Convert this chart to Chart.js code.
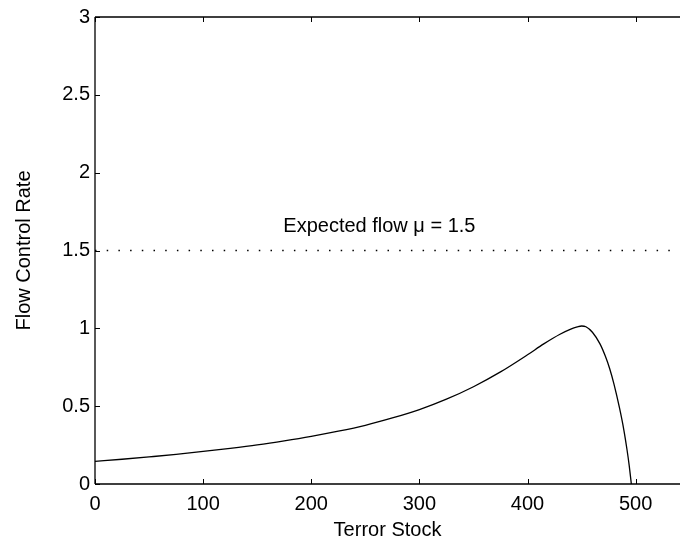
<!DOCTYPE html>
<html>
<head>
<meta charset="utf-8">
<script src="https://cdn.jsdelivr.net/npm/chart.js@4/dist/chart.umd.min.js"></script>
<style>
  html, body { margin: 0; padding: 0; background: #fff; }
  #wrap { width: 680px; height: 542px; }
</style>
</head>
<body>
<div id="wrap"><canvas id="c" width="680" height="542"></canvas></div>
<script>
// ---- data ----
const terrorStock = [0, 25, 50, 75, 100, 125, 150, 175, 200, 225, 250, 275, 300, 325, 350, 375, 400, 415, 430, 440, 446, 450, 454, 460, 467, 472, 476, 480, 485, 489, 492, 494, 496];
const flowControlRate = [0.145, 0.159, 0.174, 0.19, 0.209, 0.229, 0.251, 0.277, 0.306, 0.339, 0.377, 0.424, 0.478, 0.545, 0.625, 0.72, 0.83, 0.9, 0.962, 0.995, 1.009, 1.015, 1.01, 0.975, 0.9, 0.82, 0.74, 0.64, 0.49, 0.35, 0.22, 0.12, 0.0];
const expectedFlow = 1.5;
const expectedLabel = 'Expected flow \u03bc = 1.5';
const xTickValues = [0, 100, 200, 300, 400, 500];
const yTickValues = [0, 0.5, 1, 1.5, 2, 2.5, 3];
const xRange = [0, 541];
const yRange = [0, 3];
const labelAt = { x: 263, y: 1.655 };

const FONT = 'Liberation Sans, Arial, Helvetica, sans-serif';
const FSIZE = 20;

const curve = terrorStock.map((x, i) => ({ x: x, y: flowControlRate[i] }));
const expectedLine = [{ x: xRange[0], y: expectedFlow }, { x: xRange[1], y: expectedFlow }];

const framePlugin = {
  id: 'frame',
  afterDraw(chart) {
    const { ctx, chartArea: a, scales } = chart;
    const xs = scales.x, ys = scales.y;
    ctx.save();
    ctx.strokeStyle = '#000';
    ctx.lineWidth = 1.3;
    ctx.beginPath();
    ctx.moveTo(a.left, a.top); ctx.lineTo(a.right, a.top);
    ctx.moveTo(a.left, a.top); ctx.lineTo(a.left, a.bottom);
    ctx.moveTo(a.left, a.bottom); ctx.lineTo(a.right, a.bottom);
    ctx.stroke();
    ctx.lineWidth = 1;
    const tl = 5;
    ctx.beginPath();
    xTickValues.forEach(v => {
      const px = Math.round(xs.getPixelForValue(v)) + 0.5;
      ctx.moveTo(px, a.bottom); ctx.lineTo(px, a.bottom - tl);
      ctx.moveTo(px, a.top); ctx.lineTo(px, a.top + tl);
    });
    yTickValues.forEach(v => {
      const py = Math.round(ys.getPixelForValue(v)) + 0.5;
      ctx.moveTo(a.left, py); ctx.lineTo(a.left + tl, py);
    });
    ctx.stroke();
    // annotation
    ctx.fillStyle = '#000';
    ctx.font = FSIZE + 'px ' + FONT;
    ctx.textAlign = 'center';
    ctx.textBaseline = 'middle';
    ctx.fillText(expectedLabel, xs.getPixelForValue(labelAt.x), ys.getPixelForValue(labelAt.y));
    ctx.restore();
  }
};

new Chart(document.getElementById('c'), {
  type: 'line',
  data: {
    datasets: [
      {
        data: curve,
        borderColor: '#000',
        borderWidth: 1.3,
        pointRadius: 0,
        fill: false,
        cubicInterpolationMode: 'monotone'
      },
      {
        data: expectedLine,
        borderColor: '#000',
        borderWidth: 1.5,
        borderDash: [1.5, 10.2],
        pointRadius: 0,
        fill: false
      }
    ]
  },
  options: {
    responsive: false,
    animation: false,
    devicePixelRatio: 1,
    layout: { padding: { top: 15, right: 0, left: 0, bottom: 0 } },
    plugins: { legend: { display: false }, tooltip: { enabled: false } },
    scales: {
      x: {
        type: 'linear',
        min: xRange[0], max: xRange[1],
        grid: { display: false, drawTicks: false },
        border: { display: false },
        afterFit(s) { s.height = 58; },
        afterBuildTicks(s) { s.ticks = xTickValues.map(v => ({ value: v })); },
        ticks: {
          color: '#000', padding: 8, maxRotation: 0, autoSkip: false,
          font: { family: FONT, size: FSIZE },
          callback: v => String(v)
        },
        title: {
          display: true, text: 'Terror Stock', color: '#000',
          font: { family: FONT, size: FSIZE }, padding: { top: 2, bottom: 0 }
        }
      },
      y: {
        type: 'linear',
        min: yRange[0], max: yRange[1],
        grid: { display: false, drawTicks: false },
        border: { display: false },
        afterFit(s) { s.width = 95; },
        afterBuildTicks(s) { s.ticks = yTickValues.map(v => ({ value: v })); },
        ticks: {
          color: '#000', padding: 5, autoSkip: false,
          font: { family: FONT, size: FSIZE },
          callback: v => String(v)
        },
        title: {
          display: true, text: 'Flow Control Rate', color: '#000',
          font: { family: FONT, size: FSIZE }, padding: { top: 12, bottom: 0 }
        }
      }
    }
  },
  plugins: [framePlugin]
});
</script>
</body>
</html>
